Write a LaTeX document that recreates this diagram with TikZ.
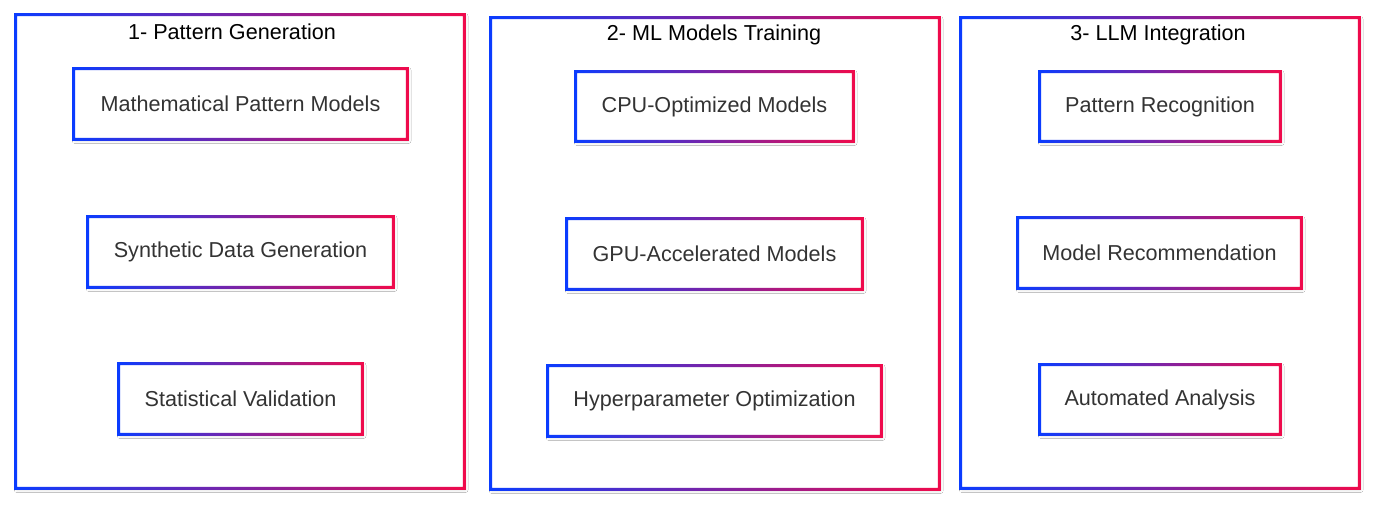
\documentclass[tikz,border=0pt]{standalone}
\usepackage{fontspec}
\setmainfont{Liberation Sans}
\usetikzlibrary{fit,shadows.blur}
\definecolor{gblue}{HTML}{0A3CFF}
\definecolor{gred}{HTML}{F00A4B}
\definecolor{txt}{HTML}{333333}
\newcommand\gframe[1]{%
  \shade[even odd rule, left color=gblue, right color=gred]
    ([shift={(-0.75pt,-0.75pt)}]#1.south west) rectangle ([shift={(0.75pt,0.75pt)}]#1.north east)
    ([shift={(0.75pt,0.75pt)}]#1.south west) rectangle ([shift={(-0.75pt,-0.75pt)}]#1.north east);}
\tikzset{
  panel/.style={inner sep=0pt, fill=white, blur shadow={shadow xshift=0.6pt, shadow yshift=-0.8pt, shadow blur radius=1.5pt, shadow opacity=18}},
  item/.style={panel},
  itext/.style={inner sep=0pt, text=txt, font=\fontsize{10.8pt}{13pt}\selectfont},
  title/.style={inner sep=0pt, text=black, font=\fontsize{10.8pt}{13pt}\selectfont},
}
\begin{document}
\begin{tikzpicture}[x=0.5pt,y=-0.5pt]
\useasboundingbox[fill=white] (0,0) rectangle (1374,507);
% panels
\node[panel, fit={(16,15) (464,488)}] (p1) {};
\node[panel, fit={(491,18) (939,489)}] (p2) {};
\node[panel, fit={(961,18) (1359,488)}] (p3) {};
\gframe{p1}\gframe{p2}\gframe{p3}
\node[title] (t1) at (232,32) {1- Pattern Generation};
\node[title] (t2) at (714,35) {2- ML Models Training};
\node[title] (t3) at (1158,35) {3- LLM Integration};
% column 1
\node[item, fit={(74,69) (407,139)}] (a1) {};
\node[item, fit={(88,217) (393,287)}] (a2) {};
\node[item, fit={(119,364) (362,434)}] (a3) {};
% column 2
\node[item, fit={(576,72) (853,141)}] (b1) {};
\node[item, fit={(567,219) (862,289)}] (b2) {};
\node[item, fit={(548,366) (881,436)}] (b3) {};
% column 3
\node[item, fit={(1040,72) (1280,141)}] (c1) {};
\node[item, fit={(1018,218) (1301,288)}] (c2) {};
\node[item, fit={(1040,365) (1280,434)}] (c3) {};
\gframe{a1}\gframe{a2}\gframe{a3}
\gframe{b1}\gframe{b2}\gframe{b3}
\gframe{c1}\gframe{c2}\gframe{c3}
\node[itext] (a1t) at (a1) {Mathematical Pattern Models};
\node[itext] (a2t) at (a2) {Synthetic Data Generation};
\node[itext] (a3t) at (a3) {Statistical Validation};
\node[itext] (b1t) at (b1) {CPU-Optimized Models};
\node[itext] (b2t) at (b2) {GPU-Accelerated Models};
\node[itext] (b3t) at (b3) {Hyperparameter Optimization};
\node[itext] (c1t) at (c1) {Pattern Recognition};
\node[itext] (c2t) at (c2) {Model Recommendation};
\node[itext] (c3t) at (c3) {Automated Analysis};
\end{tikzpicture}
\end{document}
